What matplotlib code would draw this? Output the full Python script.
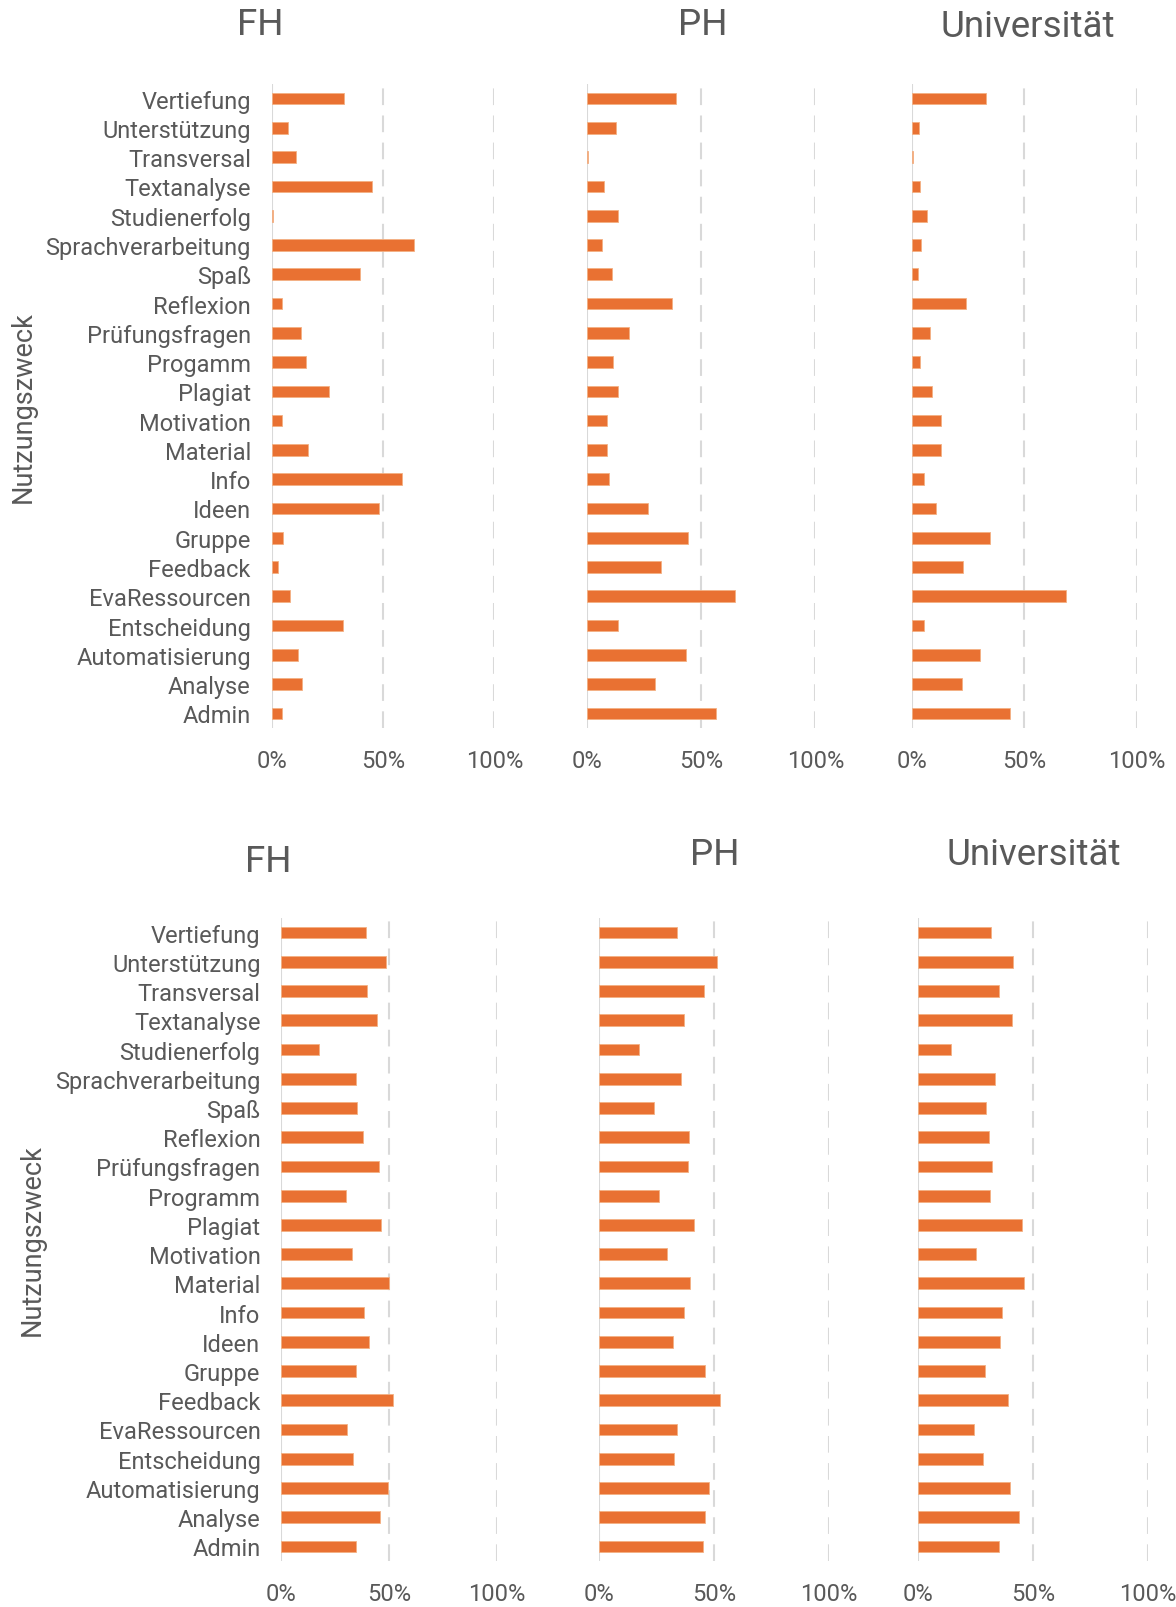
import numpy as np
import matplotlib
matplotlib.use("Agg")
import matplotlib.pyplot as plt
import matplotlib.transforms as mtransforms

plt.rcParams['font.family'] = ['Roboto', 'DejaVu Sans']

# categories, listed top to bottom as shown
cats_top = ["Vertiefung", "Unterstützung", "Transversal", "Textanalyse", "Studienerfolg",
            "Sprachverarbeitung", "Spaß", "Reflexion", "Prüfungsfragen", "Progamm",
            "Plagiat", "Motivation", "Material", "Info", "Ideen", "Gruppe", "Feedback",
            "EvaRessourcen", "Entscheidung", "Automatisierung", "Analyse", "Admin"]
cats_bottom = ["Vertiefung", "Unterstützung", "Transversal", "Textanalyse", "Studienerfolg",
               "Sprachverarbeitung", "Spaß", "Reflexion", "Prüfungsfragen", "Programm",
               "Plagiat", "Motivation", "Material", "Info", "Ideen", "Gruppe", "Feedback",
               "EvaRessourcen", "Entscheidung", "Automatisierung", "Analyse", "Admin"]

# values in percent (same order as the categories)
top_fh = [32.3, 7.2, 11.0, 45.0, 0.5, 64.0, 39.5, 4.5, 13.0, 15.5, 25.8,
          4.8, 16.5, 58.6, 48.3, 5.2, 2.8, 8.2, 32.1, 11.7, 13.4, 4.8]
top_ph = [39.0, 12.9, 0.4, 7.6, 13.9, 6.9, 11.0, 37.5, 18.7, 11.7, 13.9,
          8.9, 8.9, 9.8, 26.8, 44.3, 32.6, 64.8, 13.9, 43.6, 29.7, 56.5]
top_uni = [32.9, 3.1, 0.5, 3.5, 7.0, 4.0, 2.6, 23.9, 8.0, 3.8, 9.2,
           12.9, 13.2, 5.4, 10.6, 34.7, 22.6, 68.6, 5.4, 30.1, 22.1, 43.6]
bot_fh = [39.4, 48.5, 40.0, 44.4, 17.6, 34.6, 35.2, 38.0, 45.3, 30.0, 46.5,
          32.7, 50.1, 38.2, 40.5, 34.6, 51.9, 30.6, 33.4, 49.6, 46.0, 34.6]
bot_ph = [34.0, 51.3, 45.7, 36.8, 17.5, 35.6, 23.9, 39.2, 38.5, 26.2, 41.3,
          29.7, 39.7, 36.8, 32.3, 46.0, 52.6, 34.0, 32.6, 47.9, 46.0, 45.0]
bot_uni = [31.7, 41.1, 35.1, 41.0, 14.2, 33.6, 29.5, 30.9, 32.0, 31.4, 45.4,
           25.3, 46.2, 36.6, 35.8, 29.2, 39.1, 24.3, 28.3, 40.0, 43.8, 35.4]

titles = ["FH", "PH", "Universität"]
xticks = [0, 0.5, 1.0]
xticklabels = ["0%", "50%", "100%"]

W, H = 1176, 1608
orange = "#E97132"
grey_txt = "#595959"
grid_c = "#D9D9D9"

fig = plt.figure(figsize=(W / 100, H / 100), dpi=100)


def px_axes(left, right, top, bottom):
    return fig.add_axes([left / W, 1 - bottom / H, (right - left) / W, (bottom - top) / H])


def panel(ax, cats, vals, show_labels):
    n = len(cats)
    y = np.arange(n)[::-1]
    ax.barh(y, np.array(vals) / 100, height=0.4, color=orange,
            edgecolor="#F4B183", linewidth=0.6, zorder=3)
    ax.set_xlim(0, 1)
    ax.set_ylim(-0.5, n - 0.5)
    for s in ax.spines.values():
        s.set_visible(False)
    ax.axvline(0, color=grid_c, lw=1.5, zorder=1)
    for xv in [0.5, 1.0]:
        ax.axvline(xv, color=grid_c, lw=1.5, ls=(0, (8, 5)), zorder=1)
    ax.set_xticks(xticks)
    ax.set_xticklabels(xticklabels, fontsize=17, color=grey_txt)
    ax.tick_params(axis="x", length=0, pad=15)
    ax.set_yticks(y)
    if show_labels:
        ax.set_yticklabels(cats, fontsize=17, color=grey_txt)
        shift = mtransforms.ScaledTranslation(0, 2 / 100, fig.dpi_scale_trans)
        for lab in ax.get_yticklabels():
            lab.set_transform(lab.get_transform() + shift)
    else:
        ax.set_yticklabels([])
    ax.tick_params(axis="y", length=0, pad=15)


# top block
top_pos = [(271.7, 494.4), (586.7, 815.4), (911.7, 1137.2)]
top_vals = [top_fh, top_ph, top_uni]
for i, (l, r) in enumerate(top_pos):
    ax = px_axes(l, r, 85, 729)
    panel(ax, cats_top, top_vals[i], i == 0)

# bottom block
bot_pos = [(281.3, 496.7), (599.0, 829.0), (918.3, 1147.5)]
bot_vals = [bot_fh, bot_ph, bot_uni]
for i, (l, r) in enumerate(bot_pos):
    ax = px_axes(l, r, 919, 1562)
    panel(ax, cats_bottom, bot_vals[i], i == 0)

# titles
top_title_xy = [(260, 25), (703, 25), (1028, 27)]
bot_title_xy = [(268, 862), (715, 855), (1034, 855)]
for t, (x, y) in zip(titles, top_title_xy):
    fig.text(x / W, 1 - y / H, t, ha="center", va="center", fontsize=26.5, color=grey_txt)
for t, (x, y) in zip(titles, bot_title_xy):
    fig.text(x / W, 1 - y / H, t, ha="center", va="center", fontsize=26.5, color=grey_txt)

fig.text(23 / W, 1 - 407 / H, "Nutzungszweck", rotation=90, ha="center", va="center",
         fontsize=19.5, color=grey_txt)
fig.text(32 / W, 1 - 1240 / H, "Nutzungszweck", rotation=90, ha="center", va="center",
         fontsize=19.5, color=grey_txt)

fig.savefig("out.png", dpi=100, facecolor="white")
